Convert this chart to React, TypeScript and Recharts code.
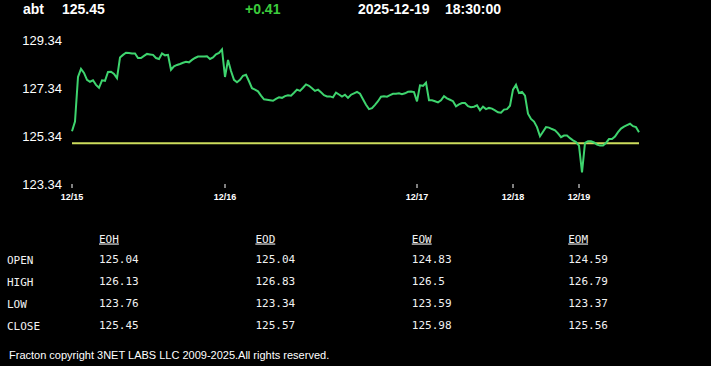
import { LineChart, Line, XAxis, YAxis, ReferenceLine } from "recharts";

const symbol = "abt";
const lastPrice = "125.45";
const change = "+0.41";
const quoteDate = "2025-12-19";
const quoteTime = "18:30:00";
const prevClose = 125.04;

// intraday closes, one per sample, 12/15 -> 12/19
const closes = [
  125.54, 125.94, 127.8, 128.14, 127.97, 127.68, 127.6, 127.66, 127.47, 127.35,
  127.66, 127.64, 128.01, 128.02, 127.93, 127.75, 128.61, 128.72, 128.81, 128.8,
  128.78, 128.78, 128.59, 128.59, 128.68, 128.76, 128.74, 128.72, 128.59, 128.55,
  128.78, 128.7, 128.72, 128.1, 128.24, 128.3, 128.34, 128.39, 128.43, 128.41,
  128.51, 128.59, 128.65, 128.65, 128.65, 128.66, 128.55, 128.61, 128.74, 128.8,
  128.95, 127.8, 128.51, 128.05, 127.68, 127.58, 127.68, 127.85, 127.89, 127.62,
  127.33, 127.27, 127.2, 127.02, 126.87, 126.85, 126.83, 126.81, 126.89, 126.95,
  126.93, 127.0, 127.04, 127.02, 127.14, 127.27, 127.22, 127.35, 127.49, 127.43,
  127.33, 127.22, 127.27, 127.16, 127.04, 126.99, 126.99, 126.95, 127.15, 127.07,
  126.98, 127.06, 126.93, 127.06, 127.12, 127.18, 127.1, 126.87, 126.64, 126.46,
  126.5, 126.64, 126.79, 126.98, 127.0, 126.98, 127.04, 127.1, 127.1, 127.12,
  127.08, 127.12, 127.18, 127.19, 127.17, 126.78, 127.45, 127.43, 127.56, 126.83,
  126.83, 126.79, 126.74, 126.83, 127.0, 126.91, 126.85, 126.79, 126.58, 126.66,
  126.71, 126.71, 126.58, 126.54, 126.56, 126.62, 126.41, 126.56, 126.46, 126.51,
  126.48, 126.41, 126.33, 126.31, 126.44, 126.46, 126.6, 127.27, 127.47, 127.13,
  127.18, 127.02, 126.27, 126.05, 125.94, 125.71, 125.33, 125.52, 125.71, 125.69,
  125.63, 125.58, 125.45, 125.29, 125.36, 125.36, 125.25, 125.16, 125.09, 124.94,
  123.82, 125.05, 125.12, 125.12, 125.07, 124.98, 124.94, 124.94, 125.05, 125.21,
  125.21, 125.32, 125.5, 125.65, 125.73, 125.79, 125.85, 125.75, 125.71, 125.5,
];

const dayLabels = ["12/15", "12/16", "12/17", "12/18", "12/19"];
const dayStartIdx = [0, 51, 115, 147, 169];
const priceTicks = [123.34, 125.34, 127.34, 129.34];

const periodCols = ["EOH", "EOD", "EOW", "EOM"];
const rowLabels = ["OPEN", "HIGH", "LOW", "CLOSE"];
const eohVals = ["125.04", "126.13", "123.76", "125.45"];
const eodVals = ["125.04", "126.83", "123.34", "125.57"];
const eowVals = ["124.83", "126.5", "123.59", "125.98"];
const eomVals = ["124.59", "126.79", "123.37", "125.56"];

const data = closes.map((v, i) => ({ i, v }));
const colVals = [eohVals, eodVals, eowVals, eomVals];

const sans = "'Liberation Sans', Arial, sans-serif";
const mono = "'DejaVu Sans Mono', monospace";

export default function App() {
  return (
    <div
      style={{
        position: "absolute",
        left: 0,
        top: 0,
        width: 711,
        height: 366,
        background: "#000",
        overflow: "hidden",
      }}
    >
      <div style={{ position: "absolute", left: 0, top: 0 }}>
        <LineChart
          width={711}
          height={215}
          data={data}
          margin={{ top: 40, right: 72, left: 0, bottom: 1 }}
        >
          <XAxis
            dataKey="i"
            type="number"
            domain={[0, closes.length - 1]}
            ticks={dayStartIdx}
            interval={0}
            tickFormatter={(v) => dayLabels[dayStartIdx.indexOf(v)] ?? ""}
            axisLine={false}
            tickLine={{ stroke: "#fff" }}
            tickSize={4}
            tickMargin={6}
            height={30}
            tick={{ fill: "#fff", fontSize: 9, fontWeight: "bold", fontFamily: sans }}
          />
          <YAxis
            type="number"
            domain={[123.34, 129.34]}
            ticks={priceTicks}
            interval={0}
            tickFormatter={(v) => Number(v).toFixed(2)}
            axisLine={false}
            tickLine={false}
            tickSize={0}
            tickMargin={10}
            width={72}
            tick={{ fill: "#fff", fontSize: 13, fontFamily: sans }}
          />
          <ReferenceLine y={prevClose} stroke="#cddc5c" strokeWidth={2} />
          <Line
            type="linear"
            dataKey="v"
            stroke="#3ed46e"
            strokeWidth={2}
            dot={false}
            isAnimationActive={false}
          />
        </LineChart>
      </div>
      <svg
        width={711}
        height={366}
        style={{ position: "absolute", left: 0, top: 0, pointerEvents: "none" }}
      >
        <g fontFamily={sans} fontWeight="bold" fontSize={14} fill="#fff">
          <text x={23} y={13.5}>{symbol}</text>
          <text x={62} y={13.5}>{lastPrice}</text>
          <text x={245} y={13.5} fill="#3ccc3c">{change}</text>
          <text x={358} y={13.5}>{quoteDate}</text>
          <text x={445} y={13.5}>{quoteTime}</text>
        </g>
        <g fontFamily={mono} fontSize={11} fill="#f2f2f2">
          {periodCols.map((c, ci) => (
            <text key={c} x={99 + ci * 156.4} y={242.5} textDecoration="underline">
              {c}
            </text>
          ))}
          {rowLabels.map((r, ri) => (
            <text key={r} x={7} y={264 + ri * 22}>{r}</text>
          ))}
          {colVals.map((vals, ci) =>
            vals.map((v, ri) => (
              <text key={ci + "-" + ri} x={99 + ci * 156.4} y={262.5 + ri * 22}>
                {v}
              </text>
            ))
          )}
        </g>
        <text x={9} y={359} fontFamily={sans} fontSize={11} fill="#fff">
          Fracton copyright 3NET LABS LLC 2009-2025.All rights reserved.
        </text>
      </svg>
    </div>
  );
}
